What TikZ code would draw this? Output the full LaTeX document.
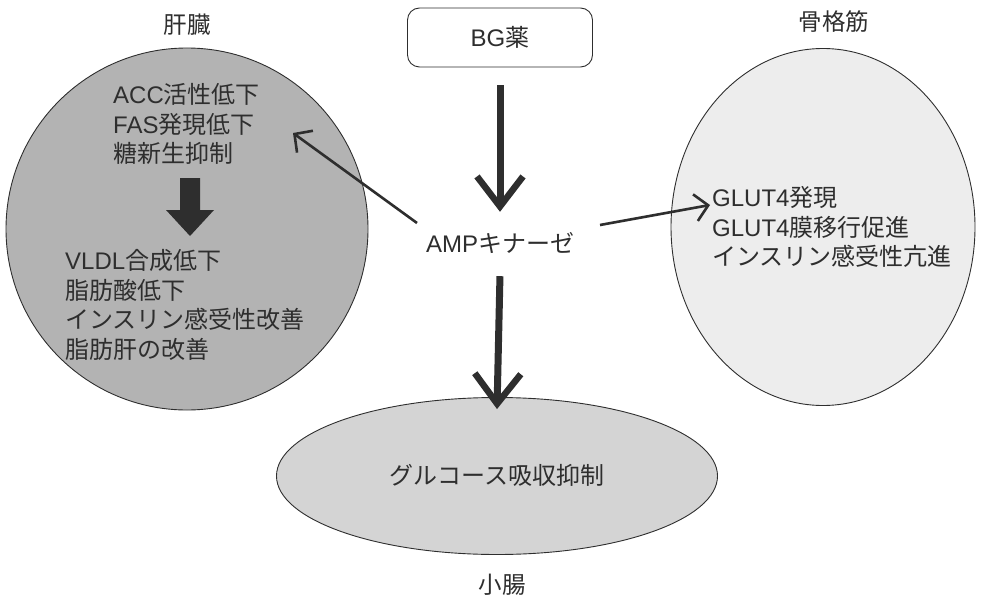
\documentclass[tikz,border=0pt]{standalone}
\usepackage{fontspec}
\setmainfont{Noto Sans CJK JP}
\newfontfamily\latfont{Liberation Sans}
\newcommand\lt[1]{{\latfont #1}}
\usetikzlibrary{arrows.meta,shapes.geometric}
\definecolor{ink}{HTML}{2E2E2E}
\definecolor{liverfill}{HTML}{B3B3B3}
\definecolor{gutfill}{HTML}{D4D4D4}
\definecolor{musclefill}{HTML}{EDEDED}
\tikzset{
  organ/.style={draw=ink, line width=0.9pt},
  txt/.style={inner sep=0pt, text=ink, font=\fontsize{24}{29.5}\selectfont, align=left},
  lbl/.style={inner sep=0pt, text=ink, font=\fontsize{23.5}{25}\selectfont},
  bigarrow/.style={draw=ink, line width=7pt, -{Straight Barb[length=30pt,width=46pt,line width=6.5pt]}},
  thinarrow/.style={draw=ink, line width=2.6pt, -{Straight Barb[length=13pt,width=27pt,line width=2.6pt]}}
}
\begin{document}
\begin{tikzpicture}[x=1pt,y=-1pt]
\useasboundingbox (0,0) rectangle (981,596);
% organs
\node[organ, circle, fill=liverfill, minimum size=362pt, inner sep=0pt] (liver) at (187,229) {};
\node[organ, ellipse, fill=musclefill, minimum width=304pt, minimum height=357pt, inner sep=0pt] (muscle) at (823,227) {};
\node[organ, ellipse, fill=gutfill, minimum width=441pt, minimum height=157pt, inner sep=0pt] (gut) at (497,476) {};
% labels
\node[lbl] (lliver) at (187,25) {肝臓};
\node[lbl] (lmuscle) at (834,22) {骨格筋};
\node[lbl] (lgut) at (502,585) {小腸};
% BG box
\node[draw=ink, line width=0.9pt, rounded corners=12pt, minimum width=185pt, minimum height=59pt, inner sep=0pt, txt] (bg) at (500,37.5) {\lt{BG}薬};
% AMP kinase
\node[txt, minimum height=62pt, minimum width=150pt] (amp) at (500,243) {\lt{AMP}キナーゼ};
% liver text
\node[txt, anchor=west] (liv1) at (113,124) {\lt{ACC}活性低下\\\lt{FAS}発現低下\\糖新生抑制};
\node[txt, anchor=west] (liv2) at (65,305) {\lt{VLDL}合成低下\\脂肪酸低下\\インスリン感受性改善\\脂肪肝の改善};
\fill[ink] (180,178) -- (200,178) -- (200,210) -- (214,210) -- (190,236) -- (166,210) -- (180,210) -- cycle;
% muscle text
\node[txt, anchor=west] (mus) at (712,227) {\lt{GLUT4}発現\\\lt{GLUT4}膜移行促進\\インスリン感受性亢進};
% gut text
\node[txt] (guttxt) at (497,475) {グルコース吸収抑制};
% arrows
\draw[bigarrow, shorten <=18pt] (bg.south) -- (amp.north);
\draw[bigarrow, shorten <=2pt] (amp.south) -- ([yshift=-12pt]gut.north);
\coordinate (lstart) at (417,223);
\coordinate (lend) at (293,133);
\coordinate (mstart) at (600,225);
\coordinate (mend) at (710,205);
\draw[thinarrow] (lstart) -- (lend);
\draw[thinarrow] (mstart) -- (mend);
\end{tikzpicture}
\end{document}
